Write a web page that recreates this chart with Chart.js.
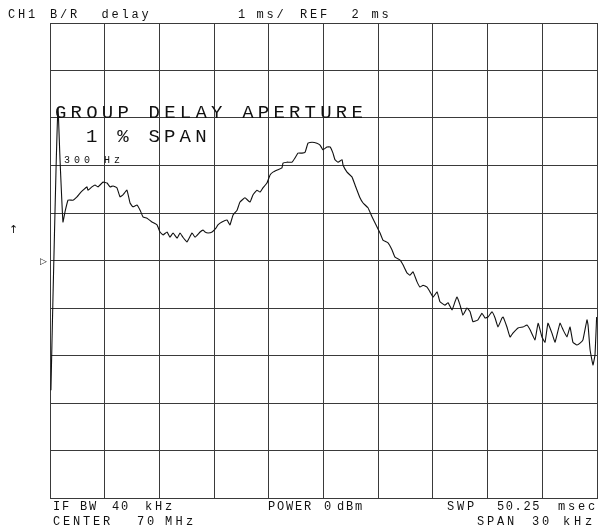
<!DOCTYPE html>
<html>
<head>
<meta charset="utf-8">
<title>CH1 B/R delay</title>
<script src="https://cdn.jsdelivr.net/npm/chart.js@4"></script>
<style>
  html, body { margin: 0; padding: 0; background: #fff; }
  #delayChart { display: block; }
</style>
</head>
<body>
<canvas id="delayChart" width="600" height="527"></canvas>
<script>
// frequency offset from 70 MHz center, kHz (span 30 kHz)
const freqKHz = [
  -14.95, -14.84, -14.67, -14.56, -14.45, -14.29, -14.18, -14.01, -13.74, -13.52,
  -13.35, -13.19, -12.97, -12.92, -12.70, -12.53, -12.37, -12.09, -11.87, -11.71,
  -11.54, -11.33, -11.16, -11.00, -10.78, -10.61, -10.45, -10.23, -10.06, -9.90,
  -9.68, -9.41, -9.13, -8.97, -8.80, -8.58, -8.42, -8.25, -8.03, -7.87,
  -7.71, -7.49, -7.21, -7.05, -6.77, -6.61, -6.50, -6.33, -6.11, -5.90,
  -5.79, -5.57, -5.29, -5.13, -4.96, -4.74, -4.58, -4.31, -4.03, -3.87,
  -3.65, -3.48, -3.32, -3.10, -2.93, -2.77, -2.50, -2.28, -2.22, -2.00,
  -1.73, -1.56, -1.40, -1.18, -1.01, -0.85, -0.63, -0.36, -0.19, -0.03,
  0.19, 0.36, 0.52, 0.63, 0.80, 1.02, 1.07, 1.29, 1.56, 1.73,
  2.00, 2.17, 2.44, 2.66, 2.93, 3.10, 3.26, 3.54, 3.76, 3.92,
  4.20, 4.36, 4.58, 4.74, 4.91, 5.13, 5.29, 5.46, 5.68, 5.84,
  6.01, 6.23, 6.39, 6.66, 6.83, 7.05, 7.21, 7.32, 7.49, 7.65,
  7.87, 8.04, 8.20, 8.47, 8.69, 8.86, 9.02, 9.24, 9.41, 9.57,
  9.79, 9.85, 10.06, 10.23, 10.39, 10.67, 10.94, 11.16, 11.33, 11.60,
  11.77, 11.98, 12.15, 12.31, 12.53, 12.70, 12.97, 13.14, 13.35, 13.52,
  13.68, 13.90, 14.07, 14.23, 14.45, 14.51, 14.62, 14.78, 14.89, 14.98
];

// group delay, ms (1 ms/div, REF 2 ms)
const delayMs = [
  -0.73, 1.17, 3.91, 5.21, 4.12, 2.81, 3.02, 3.27, 3.27, 3.34,
  3.42, 3.48, 3.55, 3.48, 3.55, 3.59, 3.55, 3.65, 3.63, 3.55,
  3.57, 3.53, 3.34, 3.38, 3.48, 3.21, 3.13, 3.17, 3.06, 2.92,
  2.89, 2.81, 2.75, 2.60, 2.54, 2.60, 2.49, 2.58, 2.47, 2.58,
  2.49, 2.39, 2.58, 2.49, 2.60, 2.64, 2.60, 2.58, 2.60, 2.68,
  2.75, 2.81, 2.85, 2.75, 2.96, 3.06, 3.23, 3.32, 3.23, 3.38,
  3.48, 3.44, 3.53, 3.63, 3.80, 3.86, 3.91, 3.95, 4.05, 4.07,
  4.07, 4.16, 4.26, 4.26, 4.28, 4.47, 4.49, 4.47, 4.43, 4.33,
  4.39, 4.39, 4.26, 4.12, 4.07, 4.12, 4.01, 3.86, 3.76, 3.59,
  3.32, 3.21, 3.11, 2.92, 2.71, 2.58, 2.43, 2.37, 2.22, 2.07,
  2.01, 1.91, 1.74, 1.69, 1.76, 1.55, 1.44, 1.48, 1.44, 1.34,
  1.23, 1.34, 1.13, 1.06, 1.11, 0.96, 1.13, 1.23, 1.06, 0.85,
  1.00, 0.92, 0.71, 0.75, 0.89, 0.79, 0.81, 0.92, 0.79, 0.60,
  0.79, 0.81, 0.60, 0.39, 0.47, 0.58, 0.60, 0.64, 0.54, 0.33,
  0.68, 0.39, 0.28, 0.68, 0.47, 0.28, 0.68, 0.54, 0.39, 0.60,
  0.28, 0.22, 0.26, 0.33, 0.75, 0.64, 0.12, -0.20, 0.01, 0.81
];

const refMs = 2;
const msPerDiv = 1;
const spanKHz = 30;

const headerText = ['CH1', 'B/R', 'delay', '1', 'ms/', 'REF', '2', 'ms'];
const footerText = ['IF', 'BW', '40', 'kHz', 'POWER', '0', 'dBm', 'SWP', '50.25', 'msec',
                    'CENTER', '70', 'MHz', 'SPAN', '30', 'kHz'];

const points = freqKHz.map((f, i) => ({ x: f, y: delayMs[i] }));

const INK = '#111';
const GRID = '#3a3a3a';

// plotter style text: fixed pitch per character
function plotText(ctx, str, x, y, size, pitch) {
  ctx.font = size + 'px "Liberation Mono", "DejaVu Sans Mono", monospace';
  const w = ctx.measureText('M').width;
  ctx.letterSpacing = (pitch - w) + 'px';
  ctx.fillText(str, x, y);
  ctx.letterSpacing = '0px';
}

const labelsPlugin = {
  id: 'analyzerLabels',
  afterDraw(chart) {
    const ctx = chart.ctx;
    ctx.save();
    ctx.fillStyle = INK;
    ctx.textBaseline = 'alphabetic';
    ctx.textAlign = 'left';

    // header line
    const hx = [8, 50, 101.5, 238, 256.5, 300, 351.5, 371.5];
    headerText.forEach((t, i) => plotText(ctx, t, hx[i], 18, 12, 10));

    // footer lines
    const fx = [53, 80, 112, 145, 268, 324, 337, 447, 497, 558,
                53, 137, 165, 477, 532, 563];
    const fp = [9, 9, 9, 10, 9, 9, 9, 10, 8.8, 10, 10, 10, 10.5, 10, 10, 11];
    footerText.forEach((t, i) => plotText(ctx, t, fx[i], i < 10 ? 510 : 525, 12, fp[i]));

    // aperture annotation
    plotText(ctx, 'GROUP DELAY APERTURE', 55, 118, 19, 15.6);
    plotText(ctx, '1 % SPAN', 86, 142, 19, 15.6);
    plotText(ctx, '300 Hz', 64, 163, 10, 10);

    // scale arrow and reference marker
    ctx.font = '11px "DejaVu Sans", sans-serif';
    ctx.fillText('↑', 9, 233);
    const yRef = chart.scales.y.getPixelForValue(refMs);
    ctx.font = '9px "DejaVu Sans", sans-serif';
    ctx.fillText('▷', 40, yRef + 3);
    ctx.restore();
  }
};

const delayChart = new Chart(document.getElementById('delayChart'), {
  type: 'line',
  data: {
    datasets: [{
      label: 'delay',
      data: points,
      borderColor: INK,
      borderWidth: 1.1,
      pointRadius: 0,
      tension: 0.1,
      fill: false
    }]
  },
  options: {
    responsive: false,
    animation: false,
    layout: { padding: { left: 50, right: 3, top: 23, bottom: 29 } },
    plugins: {
      legend: { display: false },
      tooltip: { enabled: false }
    },
    scales: {
      x: {
        type: 'linear',
        min: -spanKHz / 2,
        max: spanKHz / 2,
        ticks: { display: false, stepSize: spanKHz / 10 },
        grid: { color: GRID, lineWidth: 1, drawTicks: false },
        border: { color: GRID, width: 1 }
      },
      y: {
        type: 'linear',
        min: refMs - 5 * msPerDiv,
        max: refMs + 5 * msPerDiv,
        ticks: { display: false, stepSize: msPerDiv },
        grid: { color: GRID, lineWidth: 1, drawTicks: false },
        border: { color: GRID, width: 1 }
      }
    }
  },
  plugins: [labelsPlugin]
});
</script>
</body>
</html>
